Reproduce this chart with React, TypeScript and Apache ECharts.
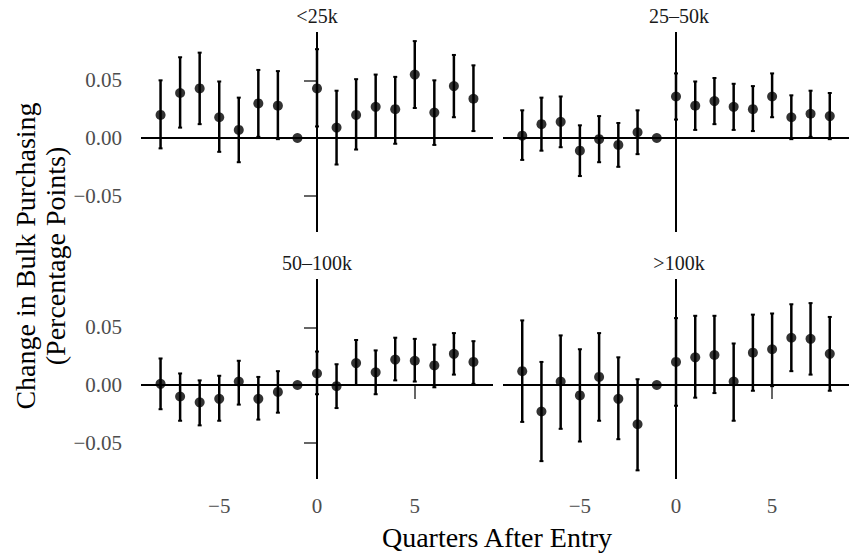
import React, { useEffect, useRef } from "react";
import * as echarts from "echarts";

const quarters = [-8, -7, -6, -5, -4, -3, -2, -1, 0, 1, 2, 3, 4, 5, 6, 7, 8];
const panelNames = ["<25k", "25\u201350k", "50\u2013100k", ">100k"];
const xTicks = [-5, 0, 5];
const yTicks = [-0.05, 0, 0.05];

const est1 = [0.020, 0.039, 0.043, 0.018, 0.007, 0.030, 0.028, 0, 0.043, 0.009, 0.020, 0.027, 0.025, 0.055, 0.022, 0.045, 0.034];
const lo1 = [-0.009, 0.009, 0.012, -0.012, -0.021, 0.001, -0.001, null, 0.010, -0.023, -0.010, 0.000, -0.005, 0.026, -0.006, 0.018, 0.006];
const hi1 = [0.050, 0.070, 0.074, 0.049, 0.035, 0.059, 0.058, null, 0.077, 0.041, 0.051, 0.055, 0.053, 0.084, 0.050, 0.072, 0.063];

const est2 = [0.002, 0.012, 0.014, -0.011, -0.001, -0.006, 0.005, 0, 0.036, 0.028, 0.032, 0.027, 0.025, 0.036, 0.018, 0.021, 0.019];
const lo2 = [-0.019, -0.011, -0.008, -0.033, -0.021, -0.025, -0.014, null, 0.016, 0.007, 0.012, 0.007, 0.006, 0.018, -0.001, 0.001, -0.001];
const hi2 = [0.024, 0.035, 0.036, 0.011, 0.019, 0.013, 0.024, null, 0.056, 0.049, 0.052, 0.047, 0.045, 0.056, 0.037, 0.041, 0.039];

const est3 = [0.001, -0.010, -0.015, -0.012, 0.003, -0.012, -0.006, 0, 0.010, -0.001, 0.019, 0.011, 0.022, 0.021, 0.017, 0.027, 0.020];
const lo3 = [-0.021, -0.031, -0.035, -0.031, -0.017, -0.030, -0.024, null, -0.008, -0.020, 0.000, -0.008, 0.004, 0.003, -0.002, 0.009, 0.001];
const hi3 = [0.023, 0.010, 0.004, 0.008, 0.021, 0.007, 0.012, null, 0.029, 0.018, 0.039, 0.030, 0.041, 0.040, 0.035, 0.045, 0.038];

const est4 = [0.012, -0.023, 0.003, -0.009, 0.007, -0.012, -0.034, 0, 0.020, 0.024, 0.026, 0.003, 0.028, 0.031, 0.041, 0.040, 0.027];
const lo4 = [-0.032, -0.066, -0.038, -0.049, -0.031, -0.047, -0.074, null, -0.018, -0.011, -0.007, -0.031, -0.005, -0.001, 0.012, 0.009, -0.005];
const hi4 = [0.056, 0.020, 0.043, 0.031, 0.045, 0.024, 0.005, null, 0.058, 0.060, 0.060, 0.036, 0.061, 0.062, 0.070, 0.071, 0.059];

const panels = [
  { est: est1, lo: lo1, hi: hi1 },
  { est: est2, lo: lo2, hi: hi2 },
  { est: est3, lo: lo3, hi: hi3 },
  { est: est4, lo: lo4, hi: hi4 },
];

const FAMILY = "Liberation Serif";
const minus = (s: string) => s.replace("-", "\u2212");

export default function App() {
  const ref = useRef<HTMLDivElement>(null);
  useEffect(() => {
    document.body.style.margin = "0";
    if (!ref.current) return;
    const chart = echarts.init(ref.current, null, { renderer: "svg" });

    const gridPos = [
      { left: 141, top: 32 },
      { left: 503, top: 32 },
      { left: 141, top: 279 },
      { left: 503, top: 279 },
    ];
    const grids = gridPos.map((g) => ({ left: g.left, top: g.top, width: 352, height: 200, containLabel: false }));

    const xAxes = gridPos.map((_, i) => {
      const bottom = i >= 2;
      return {
        type: "value",
        gridIndex: i,
        min: -9,
        max: 9,
        splitLine: { show: false },
        axisLine: { show: false },
        axisTick: {
          show: bottom,
          length: 14,
          customValues: xTicks,
          lineStyle: { color: "#333", width: 1.5 },
        },
        axisLabel: {
          show: bottom,
          customValues: xTicks,
          formatter: (v: number) => minus(String(v)),
          color: "#4D4D4D",
          fontSize: 21,
          fontFamily: FAMILY,
          margin: 16,
        },
      };
    });

    const yAxes = gridPos.map((_, i) => {
      const left = i % 2 === 0;
      return {
        type: "value",
        gridIndex: i,
        min: -0.0815,
        max: 0.0919,
        splitLine: { show: false },
        axisLine: { show: false },
        axisTick: {
          show: left,
          length: 13,
          customValues: yTicks,
          lineStyle: { color: "#333", width: 1.5 },
        },
        axisLabel: {
          show: left,
          customValues: yTicks,
          formatter: (v: number) => minus(v.toFixed(2)),
          color: "#4D4D4D",
          fontSize: 21,
          fontFamily: FAMILY,
          margin: 19,
        },
      };
    });

    const series: any[] = [];
    panels.forEach((p, i) => {
      series.push({
        type: "custom",
        xAxisIndex: i,
        yAxisIndex: i,
        silent: true,
        data: [[0, 0]],
        encode: { x: 0, y: 1 },
        z: 1,
        renderItem: (params: any, api: any) => {
          const cs = params.coordSys;
          const c = api.coord([0, 0]);
          return {
            type: "group",
            children: [
              { type: "line", shape: { x1: cs.x, y1: c[1], x2: cs.x + cs.width, y2: c[1] }, style: { stroke: "#000", lineWidth: 2 } },
              { type: "line", shape: { x1: c[0], y1: cs.y, x2: c[0], y2: cs.y + cs.height }, style: { stroke: "#000", lineWidth: 2 } },
            ],
          };
        },
      });
      const errData = quarters
        .map((q, k) => [q, p.lo[k], p.hi[k]])
        .filter((d) => d[1] !== null && d[2] !== null);
      series.push({
        type: "custom",
        xAxisIndex: i,
        yAxisIndex: i,
        silent: true,
        data: errData,
        encode: { x: 0, y: [1, 2] },
        z: 2,
        renderItem: (params: any, api: any) => {
          const x = api.value(0);
          const top = api.coord([x, api.value(2)]);
          const bot = api.coord([x, api.value(1)]);
          const cw = 2;
          return {
            type: "group",
            children: [
              { type: "line", shape: { x1: top[0], y1: top[1], x2: bot[0], y2: bot[1] }, style: { stroke: "#000", lineWidth: 2.5 } },
              { type: "line", shape: { x1: top[0] - cw, y1: top[1], x2: top[0] + cw, y2: top[1] }, style: { stroke: "#000", lineWidth: 2 } },
              { type: "line", shape: { x1: bot[0] - cw, y1: bot[1], x2: bot[0] + cw, y2: bot[1] }, style: { stroke: "#000", lineWidth: 2 } },
            ],
          };
        },
      });
      series.push({
        type: "scatter",
        xAxisIndex: i,
        yAxisIndex: i,
        silent: true,
        symbol: "circle",
        symbolSize: 10,
        itemStyle: { color: "#000" },
        z: 5,
        data: quarters.map((q, k) => [q, p.est[k]]),
      });
    });

    const stripCenters = [
      { x: 317, y: 16 },
      { x: 679, y: 16 },
      { x: 317, y: 263 },
      { x: 679, y: 263 },
    ];
    const graphic: any[] = stripCenters.map((s, i) => ({
      type: "text",
      x: s.x,
      y: s.y,
      style: {
        text: panelNames[i],
        align: "center",
        verticalAlign: "middle",
        fill: "#1a1a1a",
        fontSize: 20,
        fontFamily: FAMILY,
      },
    }));
    const titleStyle = { align: "center", verticalAlign: "middle", fill: "#000", fontSize: 28, fontFamily: FAMILY };
    graphic.push(
      { type: "text", x: 25, y: 256, rotation: Math.PI / 2, style: { ...titleStyle, text: "Change in Bulk Purchasing" } },
      { type: "text", x: 55, y: 256, rotation: Math.PI / 2, style: { ...titleStyle, text: "(Percentage Points)" } },
      { type: "text", x: 497, y: 537, style: { ...titleStyle, text: "Quarters After Entry" } }
    );

    chart.setOption({
      animation: false,
      backgroundColor: "#fff",
      grid: grids,
      xAxis: xAxes,
      yAxis: yAxes,
      series,
      graphic,
    });
    return () => chart.dispose();
  }, []);
  return <div ref={ref} style={{ width: 849, height: 554 }} />;
}
